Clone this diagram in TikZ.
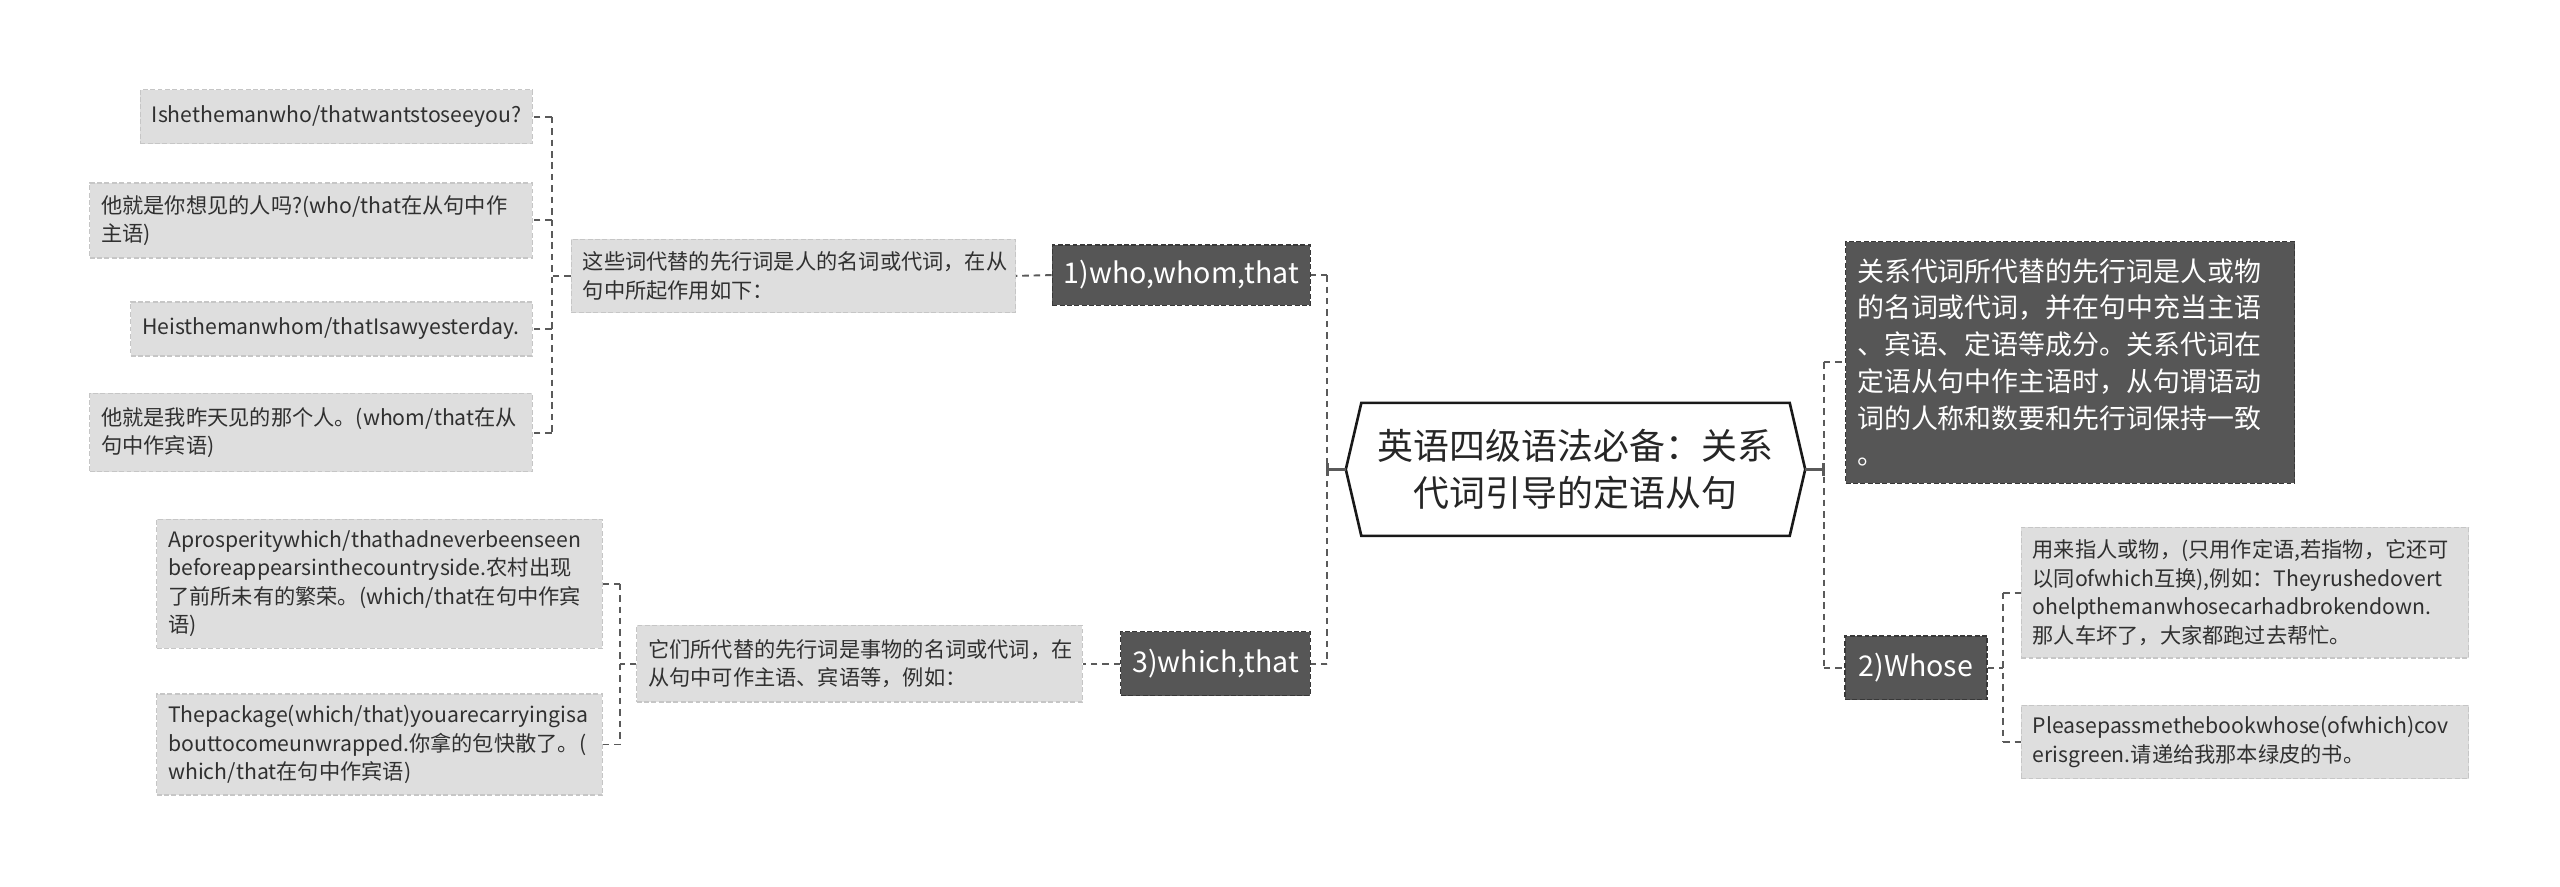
\documentclass[tikz,border=0pt]{standalone}
\usepackage{fontspec}
\setmainfont{Noto Sans CJK SC}
\usetikzlibrary{calc}
\definecolor{lightfill}{HTML}{DEDEDE}
\definecolor{lightedge}{HTML}{C6C6C6}
\definecolor{darkfill}{HTML}{565656}
\definecolor{darkedge}{HTML}{383838}
\definecolor{linkcol}{HTML}{5A5A5A}
\definecolor{txtcol}{HTML}{303030}
\tikzset{
  lightbox/.style={rectangle, fill=lightfill, draw=lightedge, line width=0.8pt,
    dash pattern=on 3pt off 1.5pt, inner xsep=7pt, inner ysep=2pt, align=left,
    text=txtcol, font=\fontsize{13pt}{17.5pt}\selectfont},
  darkbox/.style={rectangle, fill=darkfill, draw=darkedge, line width=0.8pt,
    dash pattern=on 3pt off 1.5pt, inner xsep=7pt, inner ysep=2pt, align=center,
    text=white, font=\fontsize{17.5pt}{21pt}\selectfont},
  bigdark/.style={darkbox, align=left, font=\fontsize{16.5pt}{22.5pt}\selectfont},
  link/.style={draw=linkcol, line width=1.2pt, dash pattern=on 4pt off 3pt},
  solidlink/.style={draw=linkcol, line width=1.8pt},
  hexline/.style={draw=black!90, line width=1.6pt, fill=white, line join=miter},
}
\begin{document}
\begin{tikzpicture}[x=1pt,y=-1pt]
\useasboundingbox[fill=white] (0,0) rectangle (1568,543);

% central node
\node[minimum width=262pt, minimum height=81pt, inner sep=0pt, align=center,
  text=black!85, font=\fontsize{22pt}{28.6pt}\selectfont] (hex) at (965,287.5) {};
\coordinate (hexL) at ($(hex.west)+(-9.5pt,0)$);
\coordinate (hexR) at ($(hex.east)+(9.5pt,0)$);
\draw[hexline] (hex.north west) -- (hex.north east) -- (hexR) -- (hex.south east)
  -- (hex.south west) -- (hexL) -- cycle;
\node[align=center, text=black!85, font=\fontsize{22pt}{28.6pt}\selectfont]
  (hextext) at (hex.center) {英语四级语法必备：关系\\代词引导的定语从句};

% first level
\node[darkbox, minimum width=155pt, minimum height=37pt] (who) at (723.5,168.5) {1)who,whom,that};
\node[darkbox, minimum width=114pt, minimum height=39pt] (which) at (744.5,406.5) {3)which,that};
\node[bigdark, minimum width=275pt, minimum height=148pt, text width=261pt] (rel) at (1268,222)
  {关系代词所代替的先行词是人或物\\的名词或代词，并在句中充当主语\\、宾语、定语等成分。关系代词在\\定语从句中作主语时，从句谓语动\\词的人称和数要和先行词保持一致\\。};
\node[darkbox, minimum width=87pt, minimum height=39pt] (whose) at (1173.5,409) {2)Whose};

% who branch
\node[lightbox, minimum width=272pt, minimum height=45pt, text width=258pt] (whoex) at (486,169)
  {这些词代替的先行词是人的名词或代词，在从\\句中所起作用如下：};
\node[lightbox, minimum width=240pt, minimum height=33pt, text width=226pt] (w1) at (206,71.5)
  {Ishethemanwho/thatwantstoseeyou?};
\node[lightbox, minimum width=271pt, minimum height=46pt, text width=257pt] (w2) at (190.5,135)
  {他就是你想见的人吗?(who/that在从句中作\\主语)};
\node[lightbox, minimum width=246pt, minimum height=33pt, text width=232pt] (w3) at (203,201.5)
  {Heisthemanwhom/thatIsawyesterday.};
\node[lightbox, minimum width=271pt, minimum height=48pt, text width=257pt] (w4) at (190.5,265)
  {他就是我昨天见的那个人。(whom/that在从\\句中作宾语)};

% which branch
\node[lightbox, minimum width=273pt, minimum height=47pt, text width=259pt] (whichex) at (526.5,406.5)
  {它们所代替的先行词是事物的名词或代词，在\\从句中可作主语、宾语等，例如：};
\node[lightbox, minimum width=273pt, minimum height=79pt, text width=259pt] (c1) at (232.5,357.5)
  {Aprosperitywhich/thathadneverbeenseen\\beforeappearsinthecountryside.农村出现\\了前所未有的繁荣。(which/that在句中作宾\\语)};
\node[lightbox, minimum width=273pt, minimum height=62pt, text width=259pt] (c2) at (232.5,456)
  {Thepackage(which/that)youarecarryingisa\\bouttocomeunwrapped.你拿的包快散了。(\\which/that在句中作宾语)};

% whose branch
\node[lightbox, minimum width=274pt, minimum height=80pt, text width=260pt] (s1) at (1375,363)
  {用来指人或物，(只用作定语,若指物，它还可\\以同ofwhich互换),例如：Theyrushedovert\\ohelpthemanwhosecarhadbrokendown.\\那人车坏了，大家都跑过去帮忙。};
\node[lightbox, minimum width=274pt, minimum height=45pt, text width=260pt] (s2) at (1375,454.5)
  {Pleasepassmethebookwhose(ofwhich)cov\\erisgreen.请递给我那本绿皮的书。};

% junctions
\coordinate (j0) at (813,287.5);
\coordinate (j1) at (338,169);
\coordinate (j2) at (380,406.5);
\coordinate (j3) at (1117,287.5);
\coordinate (j4) at (1227,409);

% centre to first level, left
\draw[solidlink] (hexL) -- (j0);
\draw[solidlink] ($(j0)+(0,-4pt)$) -- ($(j0)+(0,4pt)$);
\draw[link] (who.east -| j0) -- (which.east -| j0);
\draw[link] (who.east -| j0) -- (who.east);
\draw[link] (which.east -| j0) -- (which.east);
% centre to first level, right
\draw[solidlink] (hexR) -- (j3);
\draw[solidlink] ($(j3)+(0,-4pt)$) -- ($(j3)+(0,4pt)$);
\draw[link] (rel.west -| j3) -- (whose.west -| j3);
\draw[link] (rel.west -| j3) -- (rel.west);
\draw[link] (whose.west -| j3) -- (whose.west);

% who -> explanation -> examples
\draw[link] (who.west) -- (whoex.east);
\draw[link] (whoex.west) -- (j1);
\draw[link] (w1.east -| j1) -- (w4.east -| j1);
\draw[link] (w1.east -| j1) -- (w1.east);
\draw[link] (w2.east -| j1) -- (w2.east);
\draw[link] (w3.east -| j1) -- (w3.east);
\draw[link] (w4.east -| j1) -- (w4.east);

% which -> explanation -> examples
\draw[link] (which.west) -- (whichex.east);
\draw[link] (whichex.west) -- (j2);
\draw[link] (c1.east -| j2) -- (c2.east -| j2);
\draw[link] (c1.east -| j2) -- (c1.east);
\draw[link] (c2.east -| j2) -- (c2.east);

% whose -> examples
\draw[link] (whose.east) -- (j4);
\draw[link] (s1.west -| j4) -- (s2.west -| j4);
\draw[link] (s1.west -| j4) -- (s1.west);
\draw[link] (s2.west -| j4) -- (s2.west);
\end{tikzpicture}
\end{document}
